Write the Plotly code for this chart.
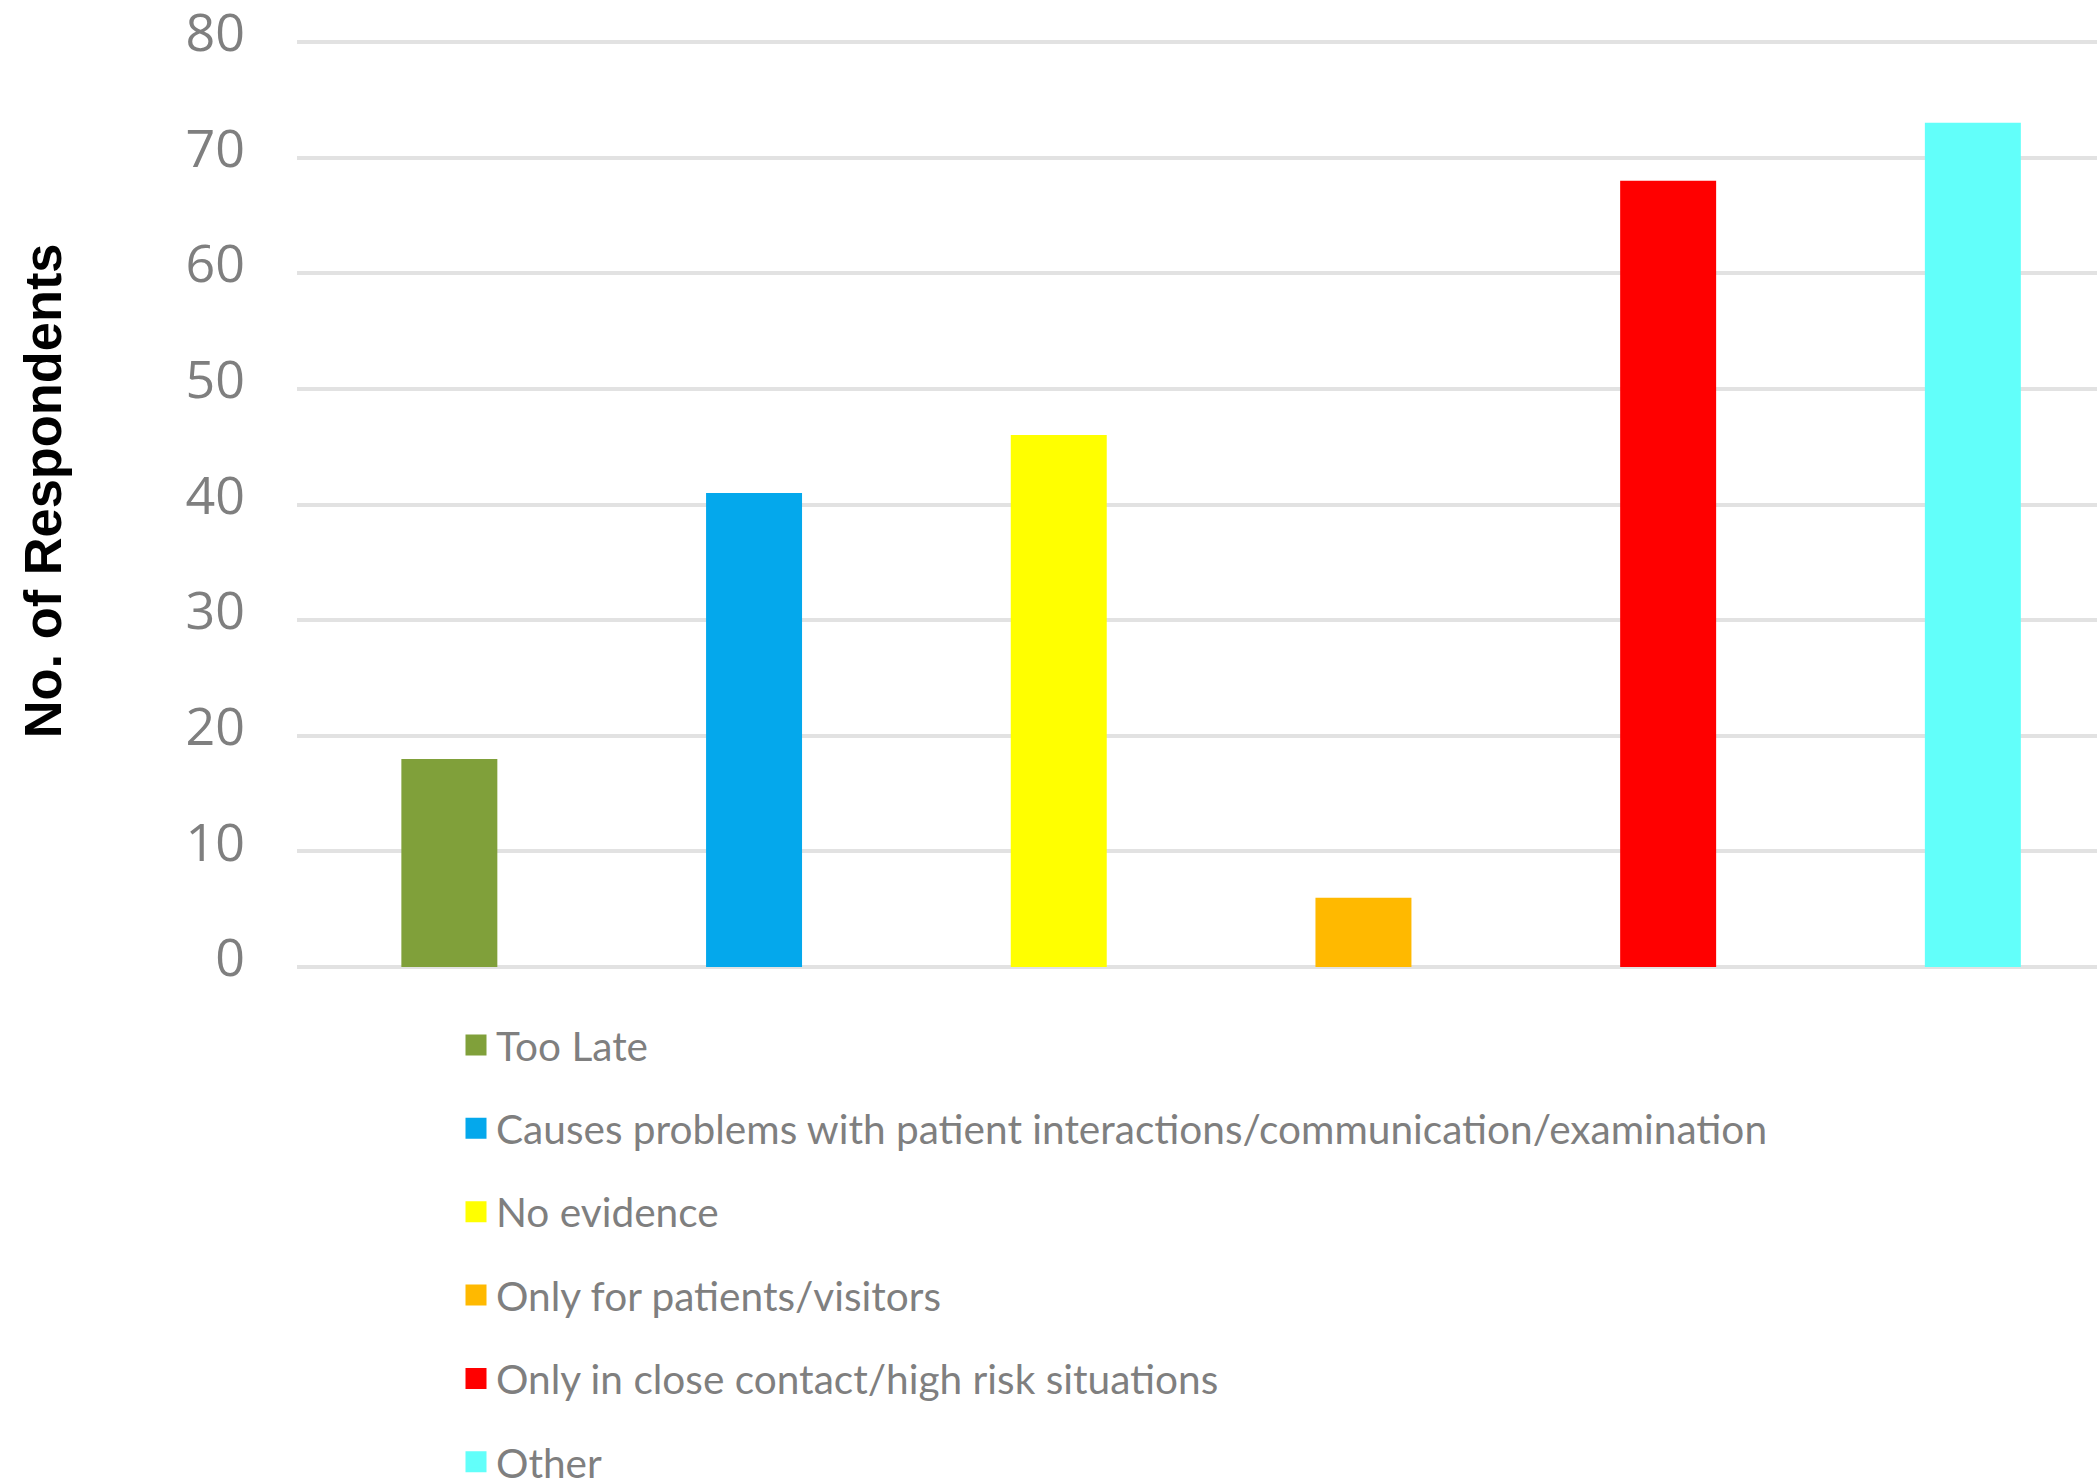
import plotly.graph_objects as go

# Survey responses: reasons given, number of respondents for each
categories = [
    "Too Late",
    "Causes problems with patient interactions/communication/examination",
    "No evidence",
    "Only for patients/visitors",
    "Only in close contact/high risk situations",
    "Other",
]
respondents = [18, 41, 46, 6, 68, 73]
bar_colors = ["#80A03A", "#04A8EC", "#FFFF00", "#FFB900", "#FF0000", "#62FFFA"]

y_ticks = [0, 10, 20, 30, 40, 50, 60, 70, 80]
y_title = "No. of Respondents"

W, H = 2097, 1478
PX_PER_UNIT = 11.5625      # vertical pixels per respondent
Y_PAD = 0.25               # small headroom so the 0 and 80 gridlines are drawn
Y0_PX, Y80_PX = 966.7, 41.7
M_LEFT, M_RIGHT = 297, 0
M_TOP = Y80_PX - Y_PAD * PX_PER_UNIT
M_BOTTOM = H - (Y0_PX + Y_PAD * PX_PER_UNIT)
CAT_PX = 304.7  # pixel width of one category slot
plot_w = W - M_LEFT - M_RIGHT
plot_h = H - M_TOP - M_BOTTOM
x_hi = -0.5 + plot_w / CAT_PX

fig = go.Figure()

fig.add_trace(go.Bar(
    x=categories,
    y=respondents,
    marker=dict(color=bar_colors, line=dict(width=0)),
    showlegend=False,
    hoverinfo="x+y",
))

# Legend entries (square swatches), one per category
for name, col in zip(categories, bar_colors):
    fig.add_trace(go.Scatter(
        x=[None], y=[None],
        mode="markers",
        name=name,
        legendgroup=name,
        marker=dict(symbol="square", size=16, color=col,
                    line=dict(color=col, width=5)),
    ))

fig.update_layout(
    width=W, height=H,
    margin=dict(l=M_LEFT, r=M_RIGHT, t=M_TOP, b=M_BOTTOM, pad=0,
                autoexpand=False),
    paper_bgcolor="white",
    plot_bgcolor="white",
    bargap=0.685,
    showlegend=True,
    legend=dict(
        orientation="v",
        xref="container", yref="container",
        x=456 / W, xanchor="left",
        y=1 - 1012 / H, yanchor="top",
        font=dict(family="Lato", size=40.6, color="#7F7F7F"),
        tracegroupgap=27.6,
        itemsizing="trace",
        bgcolor="rgba(0,0,0,0)",
    ),
    xaxis=dict(
        type="category",
        range=[-0.5, x_hi],
        showticklabels=False,
        showgrid=False,
        zeroline=False,
        showline=False,
        ticks="",
        fixedrange=True,
    ),
    yaxis=dict(
        range=[-Y_PAD, 80 + Y_PAD],
        tickvals=y_ticks,
        ticktext=[str(v) for v in y_ticks],
        showgrid=True,
        gridcolor="#E2E2E2",
        gridwidth=4,
        zeroline=False,
        showline=False,
        ticks="",
        ticklabelstandoff=51,
        ticklabelshift=-9,
        ticklabeloverflow="allow",
        tickfont=dict(family="Open Sans", size=52, color="#7F7F7F"),
        fixedrange=True,
    ),
    annotations=[dict(
        text="<b>" + y_title + "</b>",
        textangle=-90,
        xref="paper", yref="paper",
        x=(43 - M_LEFT) / plot_w, xanchor="center",
        y=(H - M_BOTTOM - 491) / plot_h, yanchor="middle",
        showarrow=False,
        font=dict(family="Liberation Sans, Arial", size=52.4, color="#000000"),
    )],
)

fig.write_html("out.html")
